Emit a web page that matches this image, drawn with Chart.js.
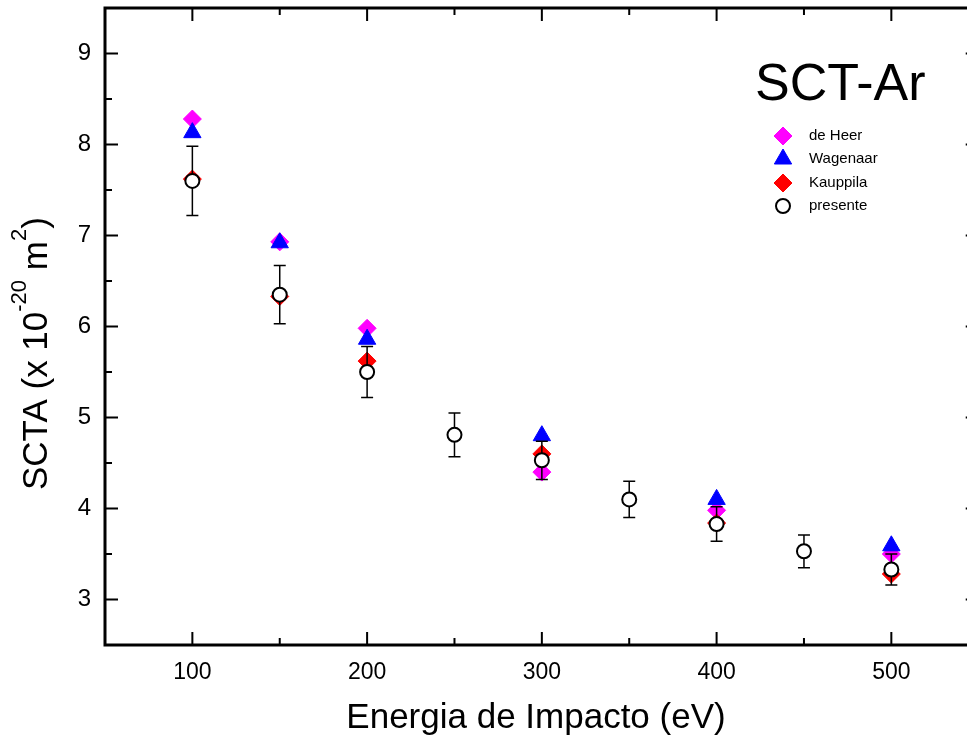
<!DOCTYPE html>
<html>
<head>
<meta charset="utf-8">
<title>SCT-Ar</title>
<script src="https://cdn.jsdelivr.net/npm/chart.js@4.4.0/dist/chart.umd.min.js"></script>
<style>
    html, body { margin: 0; padding: 0; background: #fff; }
</style>
</head>
<body>
<canvas id="chartSct" width="967" height="742"></canvas>
<script>
// valores (x 10^-20 m^2)
var refEnergy   = [100, 150, 200, 300, 400, 500];
var deHeer      = [8.28, 6.93, 5.98, 4.40, 3.98, 3.50];
var wagenaar    = [8.13, 6.92, 5.86, 4.80, 4.10, 3.59];
var kauppila    = [7.62, 6.33, 5.62, 4.60, 3.84, 3.28];

var ownEnergy   = [100, 150, 200, 250, 300, 350, 400, 450, 500];
var presente    = [7.60, 6.35, 5.50, 4.81, 4.53, 4.10, 3.83, 3.53, 3.33];
var presenteErr = [0.38, 0.32, 0.28, 0.24, 0.21, 0.20, 0.19, 0.18, 0.17];

var xTicks = [100, 200, 300, 400, 500];
var xMinor = [150, 250, 350, 450];
var yTicks = [3, 4, 5, 6, 7, 8, 9];
var yMinor = [3.5, 4.5, 5.5, 6.5, 7.5, 8.5];
var xFrameEnd = 550;   // eje derecho (queda fuera del recorte)

var FONT = '"Liberation Sans", Arial, Helvetica, sans-serif';

function pts(xs, ys) {
    return xs.map(function (x, i) { return { x: x, y: ys[i] }; });
}

var legendItems = [
    { text: 'de Heer',  style: 'rectRot',  radius: 9,  fill: '#ff00ff', line: '#ff00ff', bw: 1 },
    { text: 'Wagenaar', style: 'triangle', radius: 10, fill: '#0000ff', line: '#0000ff', bw: 1 },
    { text: 'Kauppila', style: 'rectRot',  radius: 9,  fill: '#ff0000', line: '#ff0000', bw: 1 },
    { text: 'presente', style: 'circle',   radius: 7,  fill: '#ffffff', line: '#000000', bw: 2 }
];

var errorBars = {
    id: 'errorBars',
    beforeDatasetDraw: function (chart, args) {
        if (args.index !== 3) return;
        var ctx = chart.ctx, xs = chart.scales.x, ys = chart.scales.y;
        ctx.save();
        ctx.strokeStyle = '#000';
        ctx.lineWidth = 1.5;
        ctx.beginPath();
        ownEnergy.forEach(function (e, i) {
            var px = xs.getPixelForValue(e);
            var top = ys.getPixelForValue(presente[i] + presenteErr[i]);
            var bot = ys.getPixelForValue(presente[i] - presenteErr[i]);
            ctx.moveTo(px, top); ctx.lineTo(px, bot);
            ctx.moveTo(px - 6, top); ctx.lineTo(px + 6, top);
            ctx.moveTo(px - 6, bot); ctx.lineTo(px + 6, bot);
        });
        ctx.stroke();
        ctx.restore();
    }
};

var frameAndText = {
    id: 'frameAndText',
    afterDraw: function (chart) {
        var ctx = chart.ctx, a = chart.chartArea;
        var xs = chart.scales.x, ys = chart.scales.y;
        var right = xs.getPixelForValue(xFrameEnd);
        ctx.save();
        ctx.strokeStyle = '#000';
        ctx.lineWidth = 2;
        ctx.beginPath();
        function xTick(v, len) {
            var px = xs.getPixelForValue(v);
            ctx.moveTo(px, a.bottom); ctx.lineTo(px, a.bottom - len);
            ctx.moveTo(px, a.top);    ctx.lineTo(px, a.top + len);
        }
        function yTick(v, len) {
            var py = ys.getPixelForValue(v);
            ctx.moveTo(a.left, py);  ctx.lineTo(a.left + len, py);
            ctx.moveTo(right, py);   ctx.lineTo(right - len, py);
        }
        xTicks.forEach(function (v) { xTick(v, 13); });
        xMinor.forEach(function (v) { xTick(v, 7); });
        yTicks.forEach(function (v) { yTick(v, 13); });
        yMinor.forEach(function (v) { yTick(v, 7); });
        ctx.stroke();
        ctx.lineWidth = 3;
        ctx.strokeRect(a.left, a.top, right - a.left, a.bottom - a.top);

        // titulo
        ctx.fillStyle = '#000';
        ctx.textAlign = 'left';
        ctx.textBaseline = 'alphabetic';
        ctx.font = '52px ' + FONT;
        ctx.fillText('SCT-Ar', 755, 100);

        // leyenda
        var rows = [136, 159, 183, 206];
        ctx.font = '15px ' + FONT;
        ctx.textBaseline = 'middle';
        legendItems.forEach(function (it, i) {
            ctx.fillStyle = it.fill;
            ctx.strokeStyle = it.line;
            ctx.lineWidth = it.bw;
            Chart.helpers.drawPoint(ctx, { pointStyle: it.style, radius: it.radius, borderWidth: it.bw, rotation: 0 }, 783, rows[i]);
            ctx.fillStyle = '#000';
            ctx.fillText(it.text, 809, rows[i]);
        });

        // titulo eje y con superindices
        ctx.translate(47, 490);
        ctx.rotate(-Math.PI / 2);
        ctx.textBaseline = 'alphabetic';
        var parts = [
            { t: 'SCTA (x 10', size: 35, dy: 0 },
            { t: '-20',        size: 22, dy: -21 },
            { t: ' m',         size: 35, dy: 0 },
            { t: '2',          size: 22, dy: -21 },
            { t: ')',          size: 35, dy: 0 }
        ];
        var cx = 0;
        parts.forEach(function (p) {
            ctx.font = p.size + 'px ' + FONT;
            ctx.fillText(p.t, cx, p.dy);
            cx += ctx.measureText(p.t).width;
        });
        ctx.restore();
    }
};

new Chart(document.getElementById('chartSct').getContext('2d'), {
    type: 'scatter',
    data: {
        datasets: [
            { label: 'de Heer', data: pts(refEnergy, deHeer), order: 4,
              pointStyle: 'rectRot', pointRadius: 9, backgroundColor: '#ff00ff', borderColor: '#ff00ff', borderWidth: 1 },
            { label: 'Wagenaar', data: pts(refEnergy, wagenaar), order: 3,
              pointStyle: 'triangle', pointRadius: 10, backgroundColor: '#0000ff', borderColor: '#0000ff', borderWidth: 1 },
            { label: 'Kauppila', data: pts(refEnergy, kauppila), order: 2,
              pointStyle: 'rectRot', pointRadius: 9, backgroundColor: '#ff0000', borderColor: '#ff0000', borderWidth: 1 },
            { label: 'presente', data: pts(ownEnergy, presente), order: 1,
              pointStyle: 'circle', pointRadius: 7, backgroundColor: '#ffffff', borderColor: '#000000', borderWidth: 2 }
        ]
    },
    options: {
        responsive: false,
        animation: false,
        events: [],
        layout: { autoPadding: false, padding: { top: 8, right: 0, left: 0, bottom: 0 } },
        plugins: { legend: { display: false }, tooltip: { enabled: false } },
        scales: {
            x: {
                type: 'linear', min: 50, max: 543.3,
                grid: { display: false, drawTicks: false },
                border: { display: false },
                afterBuildTicks: function (s) { s.ticks = xTicks.map(function (v) { return { value: v }; }); },
                afterFit: function (s) { s.height = 97; s.paddingLeft = 0; s.paddingRight = 0; },
                ticks: { padding: 14, color: '#000', font: { family: FONT, size: 23 } },
                title: { display: true, text: 'Energia de Impacto (eV)', color: '#000',
                         font: { family: FONT, size: 35 }, padding: { bottom: 3, top: 0 } }
            },
            y: {
                type: 'linear', min: 2.5, max: 9.5,
                grid: { display: false, drawTicks: false },
                border: { display: false },
                afterBuildTicks: function (s) { s.ticks = yTicks.map(function (v) { return { value: v }; }); },
                afterFit: function (s) { s.width = 105; s.paddingTop = 0; s.paddingBottom = 0; },
                ticks: { padding: 14, color: '#000', font: { family: FONT, size: 24 } }
            }
        }
    },
    plugins: [errorBars, frameAndText]
});
</script>
</body>
</html>
